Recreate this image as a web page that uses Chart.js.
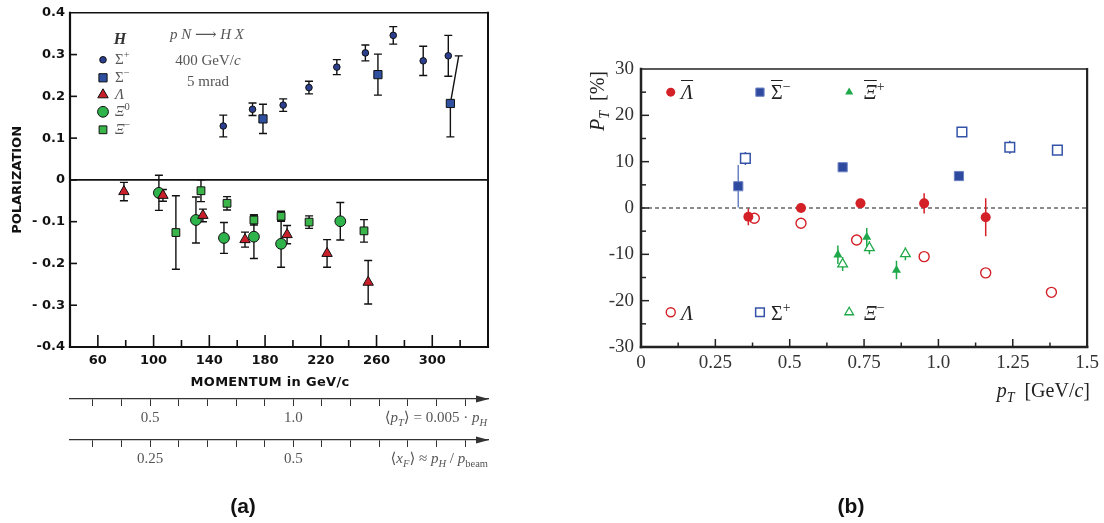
<!DOCTYPE html>
<html><head><meta charset="utf-8">
<script src="https://cdn.jsdelivr.net/npm/chart.js@4.4.1/dist/chart.umd.min.js"></script>
<style>
html,body{margin:0;padding:0;background:#fff}
body{width:1104px;height:523px;position:relative;overflow:hidden}
canvas{position:absolute;top:0}
.t{position:absolute;white-space:nowrap;line-height:1}
.sf{font-family:"Liberation Serif","DejaVu Serif",serif}
.ss{font-family:"DejaVu Sans",sans-serif}
.c{transform:translate(-50%,-50%)}
.l{transform:translateY(-50%)}
.r{transform:translate(-100%,-50%)}
sub,sup{font-size:70%;line-height:0}
.ov{text-decoration:overline;text-decoration-thickness:1px}
</style></head><body>
<canvas id="ca" width="520" height="523" style="left:0"></canvas>
<canvas id="cb" width="544" height="523" style="left:560px"></canvas>

<!-- panel (a) texts -->
<div class="t sf c" style="left:120px;top:39px;font-size:16px;font-weight:bold;font-style:italic;color:#333">H</div>
<div class="t sf l" style="left:115px;top:59px;font-size:15px;color:#555">Σ<sup>+</sup></div>
<div class="t sf l" style="left:115px;top:77px;font-size:15px;color:#555">Σ<sup>−</sup></div>
<div class="t sf l" style="left:115px;top:94px;font-size:15px;color:#555"><i>Λ</i></div>
<div class="t sf l" style="left:115px;top:111px;font-size:15px;color:#555"><i>Ξ</i><sup>0</sup></div>
<div class="t sf l" style="left:115px;top:129px;font-size:15px;color:#555"><i>Ξ</i><sup>−</sup></div>
<div class="t sf c" style="left:207px;top:34px;font-size:15px;color:#555"><i>p</i> <i>N</i> ⟶ <i>H</i> <i>X</i></div>
<div class="t sf c" style="left:208px;top:60px;font-size:15px;color:#555">400 GeV/<i>c</i></div>
<div class="t sf c" style="left:208px;top:81px;font-size:15px;color:#555">5 mrad</div>
<div class="t ss c" style="left:270px;top:381px;font-size:13px;font-weight:bold;color:#111;letter-spacing:0.3px">MOMENTUM in GeV/c</div>
<div class="t sf r" style="left:487px;top:417px;font-size:15px;color:#555">⟨<i>p</i><sub><i>T</i></sub>⟩ = 0.005 · <i>p</i><sub><i>H</i></sub></div>
<div class="t sf r" style="left:488px;top:458px;font-size:15px;color:#555">⟨<i>x</i><sub><i>F</i></sub>⟩ ≈ <i>p</i><sub><i>H</i></sub> / <i>p</i><sub>beam</sub></div>
<div class="t c" style="left:243px;top:505px;font-size:21px;font-weight:bold;font-family:'Liberation Sans',Arial,sans-serif;color:#111">(a)</div>

<!-- panel (b) texts -->
<div class="t sf l" style="left:681px;top:92px;font-size:20px;color:#222"><i class="ov">Λ</i></div>
<div class="t sf l" style="left:771px;top:92px;font-size:20px;color:#222"><span class="ov">Σ</span><sup>−</sup></div>
<div class="t sf l" style="left:864px;top:92px;font-size:20px;color:#222"><i class="ov">Ξ</i><sup>+</sup></div>
<div class="t sf l" style="left:681px;top:313px;font-size:20px;color:#222"><i>Λ</i></div>
<div class="t sf l" style="left:771px;top:313px;font-size:20px;color:#222">Σ<sup>+</sup></div>
<div class="t sf l" style="left:864px;top:313px;font-size:20px;color:#222"><i>Ξ</i><sup>−</sup></div>
<div class="t sf" style="left:597px;top:101px;font-size:20px;color:#222;transform:translate(-50%,-50%) rotate(-90deg)"><i>P</i><sub><i>T</i></sub>&nbsp; [%]</div>
<div class="t sf r" style="left:1090px;top:390px;font-size:20px;color:#222"><i>p</i><sub><i>T</i></sub>&nbsp; [GeV/<i>c</i>]</div>
<div class="t c" style="left:851px;top:505px;font-size:21px;font-weight:bold;font-family:'Liberation Sans',Arial,sans-serif;color:#111">(b)</div>

<script>
// ================= Panel (a): polarization vs momentum (GeV/c) =================
const sigPlusP     = [150, 171, 193, 211.5, 231.5, 252, 272, 293.5, 311.5];
const sigPlusPol   = [0.129, 0.169, 0.179, 0.221, 0.270, 0.304, 0.346, 0.285, 0.297];
const sigPlusErr   = [0.026, 0.015, 0.015, 0.015, 0.018, 0.019, 0.021, 0.035, 0.049];

const sigMinP      = [178.5, 261, 313];
const sigMinPol    = [0.146, 0.252, 0.183];
const sigMinErrLo  = [0.035, 0.049, 0.080];
const sigMinErrHi  = [0.035, 0.049, 0.114];
const sigMinErrHiP = [178.5, 261, 319];   // momentum at the top end of the error bar (last one is slanted)

const lamP         = [78.7, 106.7, 135.4, 165.6, 195.8, 224.5, 254];
const lamPol       = [-0.028, -0.037, -0.085, -0.143, -0.131, -0.176, -0.245];
const lamErr       = [0.022, 0.014, 0.015, 0.018, 0.022, 0.033, 0.052];

const xi0P         = [103.8, 130.4, 150.5, 172, 191.5, 234];
const xi0Pol       = [-0.031, -0.096, -0.139, -0.136, -0.153, -0.099];
const xi0Err       = [0.042, 0.055, 0.037, 0.052, 0.056, 0.045];

const xiMinP       = [116, 134, 152.7, 172, 191.5, 211.6, 251];
const xiMinPol     = [-0.126, -0.026, -0.056, -0.096, -0.087, -0.101, -0.122];
const xiMinErr     = [0.088, 0.026, 0.016, 0.012, 0.012, 0.015, 0.027];

const yTickLabelsA   = ['-0.4', '- 0.3', '- 0.2', '- 0.1', '0', '0.1', '0.2', '0.3', '0.4'];
const momentumLabels = [60, 100, 140, 180, 220, 260, 300];
const pTLabelVals    = [0.5, 1.0];
const pTLabelText    = ['0.5', '1.0'];
const xFLabelVals    = [0.25, 0.5];
const xFLabelText    = ['0.25', '0.5'];

// ================= Panel (b): P_T (%) vs p_T (GeV/c) =================
const lamBarPt   = [0.361, 0.538, 0.738, 0.952, 1.159];
const lamBarPol  = [-1.9, 0.0, 1.0, 1.0, -2.0];
const lamBarErr  = [1.8, 0.4, 0.4, 2.2, 4.1];

const sigBarPt   = [0.327, 0.678, 1.069];
const sigBarPol  = [4.7, 8.8, 6.9];
const sigBarErr  = [4.6, 0.6, 0.6];

const xiBarPt    = [0.662, 0.759, 0.859];
const xiBarPol   = [-10.1, -6.3, -13.4];
const xiBarErr   = [2.0, 2.0, 2.0];

const lamPt      = [0.381, 0.538, 0.725, 0.952, 1.159, 1.380];
const lamPolB    = [-2.2, -3.3, -6.9, -10.5, -14.0, -18.2];
const lamErrB    = [0.3, 0.3, 0.3, 0.3, 0.3, 0.3];

const sigPt      = [0.351, 1.079, 1.240, 1.400];
const sigPolB    = [10.7, 16.4, 13.1, 12.5];
const sigErrB    = [1.4, 0.9, 1.4, 0.9];

const xiPt       = [0.678, 0.768, 0.889];
const xiPolB     = [-12.1, -8.6, -9.9];
const xiErrB     = [1.5, 1.4, 1.4];

const xTickLabelsB = ['0', '0.25', '0.5', '0.75', '1.0', '1.25', '1.5'];
const yTickLabelsB = ['-30', '-20', '-10', '0', '10', '20', '30'];

// ---------------- helpers ----------------
function pts(xs, ys) { return xs.map((x, i) => ({x: x, y: ys[i]})); }

function marker(ctx, style, r, x, y) {
  ctx.beginPath();
  if (style === 'circle') {
    ctx.arc(x, y, r, 0, Math.PI * 2);
  } else if (style === 'rect') {
    const s = r * Math.SQRT1_2;
    ctx.rect(x - s, y - s, 2 * s, 2 * s);
  } else if (style === 'triangle') {
    for (let k = 0; k < 3; k++) {
      const a = k * 2 * Math.PI / 3;
      const px = x + Math.sin(a) * r, py = y - Math.cos(a) * r;
      if (k === 0) ctx.moveTo(px, py); else ctx.lineTo(px, py);
    }
    ctx.closePath();
  }
}

const deco = {
  id: 'deco',
  beforeDatasetsDraw(chart, args, o) {
    const {ctx, chartArea: a, scales} = chart;
    const xs = scales.x, ys = scales.y;
    if (o.zero) {
      const y0 = ys.getPixelForValue(0);
      ctx.save();
      ctx.strokeStyle = o.zero.color; ctx.lineWidth = o.zero.width;
      ctx.setLineDash(o.zero.dash || []);
      ctx.beginPath(); ctx.moveTo(a.left, y0); ctx.lineTo(a.right, y0); ctx.stroke();
      ctx.restore();
    }
    // error bars
    chart.data.datasets.forEach(ds => {
      if (!ds.errLo) return;
      ctx.save();
      ctx.strokeStyle = ds.errColor; ctx.lineWidth = ds.errWidth || 1.5;
      const gHi = ds.errGapHi || 0, gLo = ds.errGapLo || 0;
      ds.data.forEach((p, j) => {
        const px = xs.getPixelForValue(p.x);
        const py = ys.getPixelForValue(p.y);
        const pLo = ys.getPixelForValue(p.y - ds.errLo[j]);
        const pHi = ys.getPixelForValue(p.y + ds.errHi[j]);
        const pxHi = ds.errHiX ? xs.getPixelForValue(ds.errHiX[j]) : px;
        ctx.beginPath();
        if (pLo > py + gLo) { ctx.moveTo(px, pLo); ctx.lineTo(px, py + gLo); }
        if (pHi < py - gHi) {
          if (gHi > 0) { ctx.moveTo(px, py - gHi); } else { ctx.moveTo(px, py); }
          ctx.lineTo(pxHi, pHi);
        }
        if (ds.errCap) {
          ctx.moveTo(px - ds.errCap, pLo); ctx.lineTo(px + ds.errCap, pLo);
          ctx.moveTo(pxHi - ds.errCap, pHi); ctx.lineTo(pxHi + ds.errCap, pHi);
        }
        ctx.stroke();
      });
      ctx.restore();
    });
  },
  afterDatasetsDraw(chart, args, o) {
    const {ctx, chartArea: a, scales} = chart;
    ctx.save();
    // frame
    const f = o.frame;
    ctx.strokeStyle = f.color; ctx.lineCap = 'square';
    ctx.lineWidth = f.top; ctx.beginPath(); ctx.moveTo(a.left, a.top); ctx.lineTo(a.right, a.top); ctx.stroke();
    ctx.lineWidth = f.right; ctx.beginPath(); ctx.moveTo(a.right, a.top); ctx.lineTo(a.right, a.bottom); ctx.stroke();
    ctx.lineWidth = f.left; ctx.beginPath(); ctx.moveTo(a.left, a.top); ctx.lineTo(a.left, a.bottom); ctx.stroke();
    ctx.lineWidth = f.bottom; ctx.beginPath(); ctx.moveTo(a.left, a.bottom); ctx.lineTo(a.right, a.bottom); ctx.stroke();
    // inward ticks
    ctx.lineCap = 'butt';
    o.inTicks.forEach(t => {
      const s = scales[t.axis];
      ctx.lineWidth = t.width;
      s.ticks.forEach(tk => {
        const p = s.getPixelForValue(tk.value);
        const len = (tk.label !== '' && tk.label != null) ? t.major : t.minor;
        ctx.beginPath();
        if (s.isHorizontal()) {
          if (p < a.left + 2 || p > a.right - 2) return;
          ctx.moveTo(p, a.bottom); ctx.lineTo(p, a.bottom - len);
        } else {
          if (p < a.top + 2 || p > a.bottom - 2) return;
          ctx.moveTo(a.left, p); ctx.lineTo(a.left + len, p);
        }
        ctx.stroke();
      });
    });
    // arrow heads on extra axes
    (o.arrows || []).forEach(id => {
      const s = scales[id];
      const y = s.top;
      ctx.fillStyle = '#333';
      ctx.beginPath();
      ctx.moveTo(a.right + 1, y); ctx.lineTo(a.right - 12, y - 3.5); ctx.lineTo(a.right - 12, y + 3.5);
      ctx.closePath(); ctx.fill();
    });
    // legend symbols
    (o.legend || []).forEach(L => {
      const x = L.dataX !== undefined ? scales.x.getPixelForValue(L.dataX) : a.left + L.dx;
      const y = L.dataY !== undefined ? scales.y.getPixelForValue(L.dataY) : a.top + L.dy;
      marker(ctx, L.style, L.r, x, y);
      if (L.fill) { ctx.fillStyle = L.fill; ctx.fill(); }
      if (L.bw) { ctx.lineWidth = L.bw; ctx.strokeStyle = L.stroke; ctx.stroke(); }
    });
    ctx.restore();
  }
};

// ---------------- chart (a) ----------------
const sansA = {family: "'DejaVu Sans', sans-serif", size: 13, weight: 'bold'};
const serifA = {family: "'Liberation Serif', serif", size: 15};
const K = '#111';
const styleA = {
  sp: {pointStyle: 'circle', pointRadius: 3.3, backgroundColor: '#2b3f8e', borderColor: K, borderWidth: 1},
  sm: {pointStyle: 'rect', pointRadius: 5.8, backgroundColor: '#2f4f9f', borderColor: K, borderWidth: 1},
  la: {pointStyle: 'triangle', pointRadius: 6, backgroundColor: '#c81f2b', borderColor: K, borderWidth: 1},
  x0: {pointStyle: 'circle', pointRadius: 5.4, backgroundColor: '#2fb34b', borderColor: K, borderWidth: 1},
  xm: {pointStyle: 'rect', pointRadius: 5.5, backgroundColor: '#3ab54a', borderColor: K, borderWidth: 1}
};
function dsA(label, xs, ys, st, lo, hi, hiX) {
  return Object.assign({label: label, data: pts(xs, ys), errLo: lo, errHi: hi, errHiX: hiX,
    errColor: '#111', errWidth: 1.4, errCap: 4, pointHoverRadius: st.pointRadius}, st);
}
const legA = [
  ['sp', 59], ['sm', 77], ['la', 94], ['x0', 111], ['xm', 129]
].map(([k, py]) => ({style: styleA[k].pointStyle, r: styleA[k].pointRadius, fill: styleA[k].backgroundColor,
  stroke: K, bw: 1, dx: 103 - 70, dy: py - 12}));

new Chart(document.getElementById('ca'), {
  type: 'scatter',
  data: {datasets: [
    dsA('Σ+', sigPlusP, sigPlusPol, styleA.sp, sigPlusErr, sigPlusErr),
    dsA('Σ−', sigMinP, sigMinPol, styleA.sm, sigMinErrLo, sigMinErrHi, sigMinErrHiP),
    dsA('Λ', lamP, lamPol, styleA.la, lamErr, lamErr),
    dsA('Ξ0', xi0P, xi0Pol, styleA.x0, xi0Err, xi0Err),
    dsA('Ξ−', xiMinP, xiMinPol, styleA.xm, xiMinErr, xiMinErr)
  ]},
  options: {
    responsive: false, animation: false, events: [],
    layout: {padding: {left: 0, right: 32, top: 12, bottom: 53}},
    plugins: {
      legend: {display: false}, tooltip: {enabled: false},
      deco: {
        zero: {color: '#111', width: 1.6},
        frame: {color: '#111', left: 2.2, bottom: 2.2, top: 1.6, right: 2},
        inTicks: [{axis: 'x', major: 12, minor: 7, width: 1.6}, {axis: 'y', major: 7, minor: 7, width: 1.6}],
        arrows: ['x2', 'x3'],
        legend: legA
      }
    },
    scales: {
      x: {type: 'linear', position: 'bottom', weight: 0, min: 40, max: 340,
        ticks: {stepSize: 20, autoSkip: false, maxRotation: 0, padding: 6, color: K, font: sansA,
          callback: v => momentumLabels.includes(v) ? String(v) : ''},
        grid: {display: false, drawTicks: false}, border: {display: false},
        afterFit: s => { s.height = 52; }},
      x2: {type: 'linear', position: 'bottom', weight: 1, min: 0.22, max: 1.68,
        ticks: {stepSize: 0.1, includeBounds: false, autoSkip: false, maxRotation: 0, padding: 3, color: '#555', font: serifA,
          callback: v => { const i = pTLabelVals.findIndex(q => Math.abs(q - v) < 1e-6); return i >= 0 ? pTLabelText[i] : ''; }},
        grid: {display: true, drawOnChartArea: false, drawTicks: true, tickLength: 7, color: '#333', lineWidth: 1},
        border: {display: true, color: '#333', width: 1.3},
        afterFit: s => { s.height = 41; }},
      x3: {type: 'linear', position: 'bottom', weight: 2, min: 0.11, max: 0.84,
        ticks: {stepSize: 0.05, includeBounds: false, autoSkip: false, maxRotation: 0, padding: 3, color: '#555', font: serifA,
          callback: v => { const i = xFLabelVals.findIndex(q => Math.abs(q - v) < 1e-6); return i >= 0 ? xFLabelText[i] : ''; }},
        grid: {display: true, drawOnChartArea: false, drawTicks: true, tickLength: 7, color: '#333', lineWidth: 1},
        border: {display: true, color: '#333', width: 1.3},
        afterFit: s => { s.height = 30; }},
      y: {type: 'linear', position: 'left', min: -0.4, max: 0.4,
        ticks: {stepSize: 0.1, autoSkip: false, padding: 5, color: K, font: sansA,
          callback: (v, i) => yTickLabelsA[i]},
        grid: {display: false, drawTicks: false}, border: {display: false},
        title: {display: true, text: 'POLARIZATION', color: K, font: sansA, padding: {top: 10, bottom: 0}},
        afterFit: s => { s.width = 70; }}
    }
  },
  plugins: [deco]
});

// ---------------- chart (b) ----------------
const serifB = {family: "'Liberation Serif', serif", size: 19};
const RED = '#d42027', BLUE = '#2e4a9e', BLUE2 = '#3453a8', GREEN = '#1fa84a';
const styleB = {
  lb: {pointStyle: 'circle', pointRadius: 5, backgroundColor: RED, borderColor: RED, borderWidth: 0},
  sb: {pointStyle: 'rect', pointRadius: 6.5, backgroundColor: BLUE, borderColor: '#6d82c4', borderWidth: 1},
  xb: {pointStyle: 'triangle', pointRadius: 5.2, backgroundColor: GREEN, borderColor: GREEN, borderWidth: 0},
  lo: {pointStyle: 'circle', pointRadius: 5, backgroundColor: 'rgba(255,255,255,0)', borderColor: RED, borderWidth: 1.4},
  so: {pointStyle: 'rect', pointRadius: 6.8, backgroundColor: 'rgba(255,255,255,0)', borderColor: BLUE2, borderWidth: 1.5},
  xo: {pointStyle: 'triangle', pointRadius: 5.6, backgroundColor: 'rgba(255,255,255,0)', borderColor: GREEN, borderWidth: 1.3}
};
function dsB(label, xs, ys, st, err, col, gapHi, gapLo) {
  return Object.assign({label: label, data: pts(xs, ys), errLo: err, errHi: err, errColor: col, errWidth: 1.5, errCap: 0,
    errGapHi: gapHi || 0, errGapLo: gapLo || 0, pointHoverRadius: st.pointRadius}, st);
}
const legB = [
  ['lb', 0.1, 25], ['sb', 0.4, 25], ['xb', 0.7, 25],
  ['lo', 0.1, -22.5], ['so', 0.4, -22.5], ['xo', 0.7, -22.5]
].map(([k, dx, dy]) => {
  const s = styleB[k];
  return {style: s.pointStyle, r: s.pointRadius * 0.9, fill: s.borderWidth ? null : s.backgroundColor,
    stroke: s.borderColor, bw: s.borderWidth, dataX: dx, dataY: dy};
});
legB[1].fill = BLUE;

new Chart(document.getElementById('cb'), {
  type: 'scatter',
  data: {datasets: [
    dsB('Λbar', lamBarPt, lamBarPol, styleB.lb, lamBarErr, RED),
    dsB('Σbar−', sigBarPt, sigBarPol, styleB.sb, sigBarErr, '#6d82c4'),
    dsB('Ξbar+', xiBarPt, xiBarPol, styleB.xb, xiBarErr, GREEN),
    dsB('Λ', lamPt, lamPolB, styleB.lo, lamErrB, RED, 5, 5),
    dsB('Σ+', sigPt, sigPolB, styleB.so, sigErrB, BLUE2, 4.8, 4.8),
    dsB('Ξ−', xiPt, xiPolB, styleB.xo, xiErrB, GREEN, 5.6, 2.8)
  ]},
  options: {
    responsive: false, animation: false, events: [],
    layout: {padding: {left: 0, right: 14, top: 69, bottom: 136}},
    plugins: {
      legend: {display: false}, tooltip: {enabled: false},
      deco: {
        zero: {color: '#666', width: 1.5, dash: [4, 3]},
        frame: {color: '#222', left: 2.5, bottom: 2.5, top: 1.6, right: 2.2},
        inTicks: [{axis: 'x', major: 8, minor: 4.5, width: 1.5}, {axis: 'y', major: 8, minor: 5, width: 1.5}],
        legend: legB
      }
    },
    scales: {
      x: {type: 'linear', position: 'bottom', min: 0, max: 1.5,
        ticks: {stepSize: 0.125, autoSkip: false, maxRotation: 0, padding: 5, color: '#333', font: serifB,
          callback: (v, i) => i % 2 === 0 ? xTickLabelsB[i / 2] : ''},
        grid: {display: false, drawTicks: false}, border: {display: false},
        afterFit: s => { s.height = 40; }},
      y: {type: 'linear', position: 'left', min: -30, max: 30,
        ticks: {stepSize: 5, autoSkip: false, padding: 7, color: '#333', font: serifB,
          callback: (v, i) => i % 2 === 0 ? yTickLabelsB[i / 2] : ''},
        grid: {display: false, drawTicks: false}, border: {display: false},
        afterFit: s => { s.width = 81; }}
    }
  },
  plugins: [deco]
});
</script>
</body></html>
